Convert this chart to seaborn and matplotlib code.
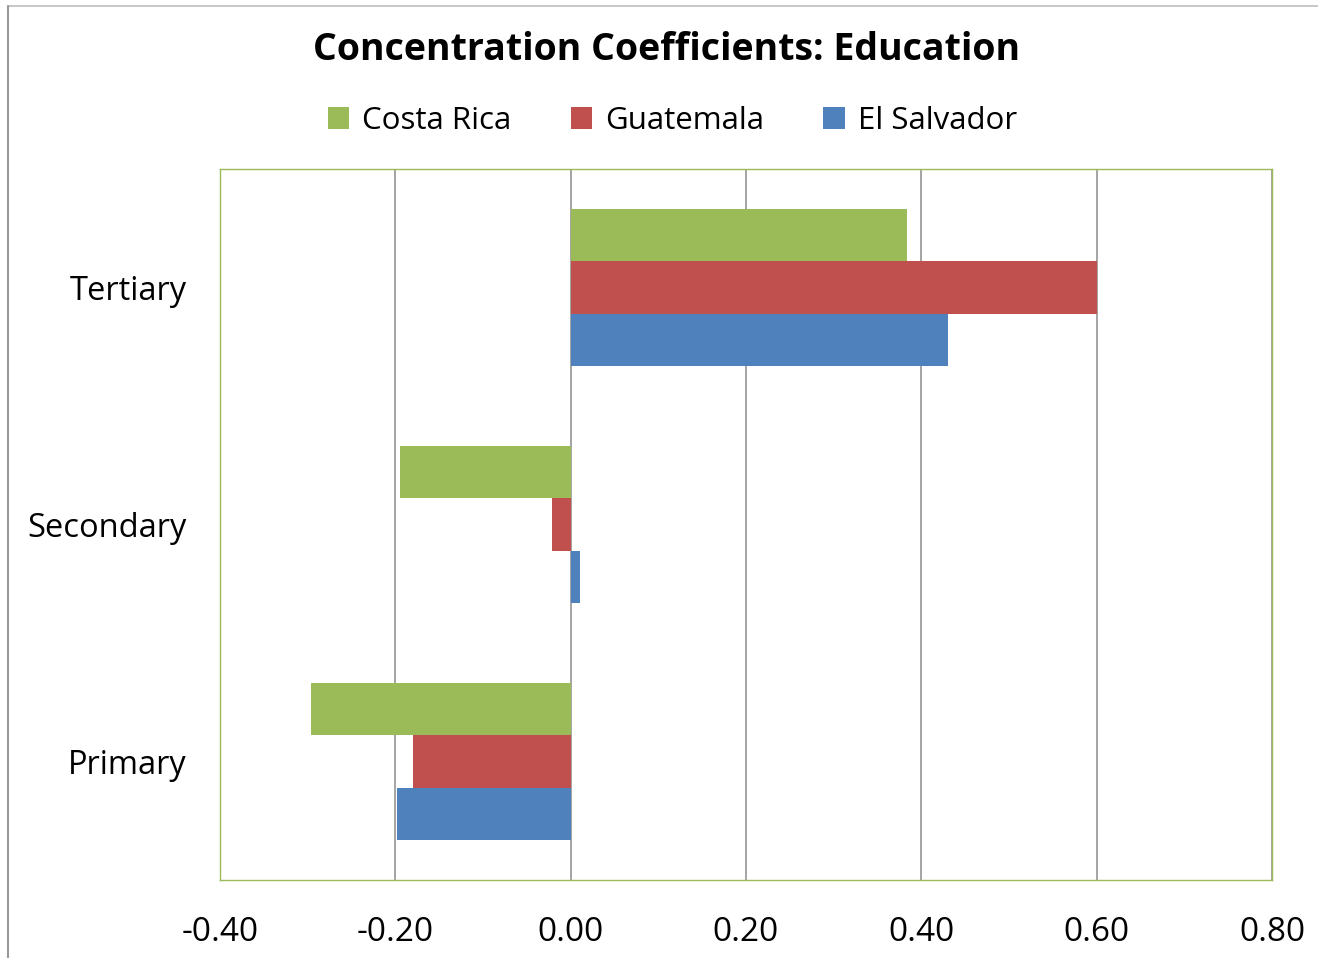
import matplotlib
matplotlib.use("Agg")
import matplotlib.pyplot as plt
from matplotlib.patches import Patch
from matplotlib.lines import Line2D
import seaborn as sns
import pandas as pd

# Concentration coefficients by education level
levels = ["Tertiary", "Secondary", "Primary"]
countries = ["Costa Rica", "Guatemala", "El Salvador"]
costa_rica = [0.384, -0.195, -0.296]
guatemala = [0.600, -0.021, -0.180]
el_salvador = [0.430, 0.011, -0.198]
colors = ["#9BBB59", "#C0504D", "#4F81BD"]
x_ticks = [-0.40, -0.20, 0.00, 0.20, 0.40, 0.60, 0.80]

df = pd.DataFrame({
    "level": levels * 3,
    "country": [c for c in countries for _ in levels],
    "value": costa_rica + guatemala + el_salvador,
})

sns.set_style("white")
plt.rcParams["font.family"] = ["Open Sans", "DejaVu Sans"]

fig = plt.figure(figsize=(13.18, 9.58), dpi=100)
ax = fig.add_axes([220 / 1318, 1 - 880 / 958, (1272 - 220) / 1318, (880 - 169) / 958])

sns.barplot(data=df, y="level", x="value", hue="country", order=levels,
            hue_order=countries, palette=colors, orient="h", width=0.665,
            saturation=1, ax=ax, legend=False, zorder=3, linewidth=0)

ax.set_xlim(-0.40, 0.80)
ax.set_ylim(2.5, -0.5)
ax.set_xticks(x_ticks)
ax.set_xticklabels([f"{t:.2f}" for t in x_ticks], fontsize=24, color="black")
ax.tick_params(axis="y", labelsize=23.5, length=0, pad=24, labelcolor="black")
ax.tick_params(axis="x", length=0, pad=26)
ax.set_xlabel("")
ax.set_ylabel("")
ax.grid(axis="x", color="#8C8C8C", linewidth=1.1, zorder=0)
ax.set_axisbelow(True)
for s in ax.spines.values():
    s.set_visible(True)
    s.set_color("#9BBB59")
    s.set_linewidth(1.0)

fig.text(0.506, 1 - 50 / 958, "Concentration Coefficients: Education",
         ha="center", va="center", fontsize=27, fontweight="bold", color="black")

handles = [Patch(facecolor=c, edgecolor="none") for c in colors]
fig.legend(handles, countries, loc="center", bbox_to_anchor=(0.51, 1 - 121 / 958),
           ncol=3, frameon=False, fontsize=22.5, handlelength=0.7, handleheight=0.7,
           handletextpad=0.4, columnspacing=1.9, labelcolor="black")

# chart-area border along top and left edges
fig.add_artist(Line2D([8 / 1318, 1.0], [1 - 6 / 958, 1 - 6 / 958],
                      transform=fig.transFigure, color="#BDBDBD", linewidth=1.2))
fig.add_artist(Line2D([8 / 1318, 8 / 1318], [0.0, 1 - 6 / 958],
                      transform=fig.transFigure, color="#9A9A9A", linewidth=1.5))

fig.savefig("out.png", dpi=100)
